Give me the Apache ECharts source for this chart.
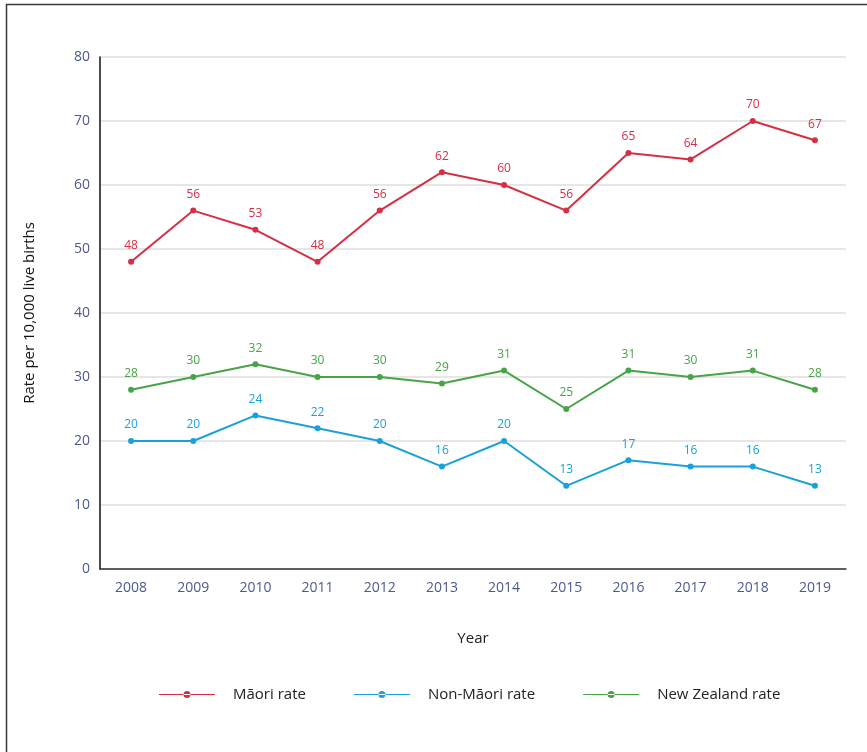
<!DOCTYPE html>
<html>
<head>
<meta charset="utf-8">
<script src="https://cdn.jsdelivr.net/npm/echarts@6/dist/echarts.min.js"></script>
<style>
html,body{margin:0;padding:0;background:#fff;}
#chart{width:867px;height:752px;}
</style>
</head>
<body>
<div id="chart"></div>
<script>
const years = ['2008','2009','2010','2011','2012','2013','2014','2015','2016','2017','2018','2019'];
const maoriRate = [48,56,53,48,56,62,60,56,65,64,70,67];
const nonMaoriRate = [20,20,24,22,20,16,20,13,17,16,16,13];
const nzRate = [28,30,32,30,30,29,31,25,31,30,31,28];
const yTicks = [0,10,20,30,40,50,60,70,80];

const FONT = '"Open Sans", "Noto Sans", sans-serif';
const chart = echarts.init(document.getElementById('chart'));

function mk(name, data, color) {
  return {
    name: name, type: 'line', data: data,
    symbol: 'circle', symbolSize: 6,
    lineStyle: {color: color, width: 2},
    itemStyle: {color: color},
    label: {show: true, position: 'top', distance: 7, color: color, fontSize: 12, fontFamily: FONT},
    z: 3
  };
}
const legendIcon = 'path://M0,3.5 L56,3.5 L56,4.5 L0,4.5 Z M24.5,4 a3.5,3.5 0 1,0 7,0 a3.5,3.5 0 1,0 -7,0';

chart.setOption({
  animation: false,
  backgroundColor: '#fff',
  graphic: [{
    type: 'rect', left: 4, top: 2, shape: {x: 0, y: 0, width: 900, height: 800},
    style: {fill: 'none', stroke: '#3a3a3a', lineWidth: 1.5}, silent: true, z: -1
  }],
  grid: {left: 100, right: 21, top: 57, bottom: 183, containLabel: false},
  legend: {
    left: 154, top: 682, itemWidth: 56, itemHeight: 8, itemGap: 48,
    textStyle: {color: '#222', fontSize: 15, fontFamily: FONT, padding: [0, 0, 0, 13]},
    data: [
      {name: 'Māori rate', icon: legendIcon},
      {name: 'Non-Māori rate', icon: legendIcon},
      {name: 'New Zealand rate', icon: legendIcon}
    ]
  },
  xAxis: {
    type: 'category', data: years, boundaryGap: true,
    name: 'Year', nameLocation: 'middle', nameGap: 62,
    nameTextStyle: {color: '#222', fontSize: 15, fontFamily: FONT},
    axisLine: {show: true, lineStyle: {color: '#333', width: 1.5}},
    axisTick: {show: false},
    axisLabel: {color: '#4d5a8f', fontSize: 14, margin: 12, fontFamily: FONT}
  },
  yAxis: {
    type: 'value', min: 0, max: 80, interval: 10,
    name: 'Rate per 10,000 live births', nameLocation: 'middle', nameGap: 63, nameRotate: 90,
    nameTextStyle: {color: '#111', fontSize: 15, fontFamily: FONT},
    axisLine: {show: true, lineStyle: {color: '#111', width: 1.5}},
    axisTick: {show: false},
    axisLabel: {color: '#4d5a8f', fontSize: 14, margin: 10, fontFamily: FONT,
      formatter: function (v) { return yTicks.indexOf(v) >= 0 ? String(v) : ''; }},
    splitLine: {show: true, lineStyle: {color: '#e6e6e6', width: 2}}
  },
  series: [
    mk('Māori rate', maoriRate, '#d42f45'),
    mk('Non-Māori rate', nonMaoriRate, '#1ba1d8'),
    mk('New Zealand rate', nzRate, '#47a447')
  ]
});
</script>
</body>
</html>
